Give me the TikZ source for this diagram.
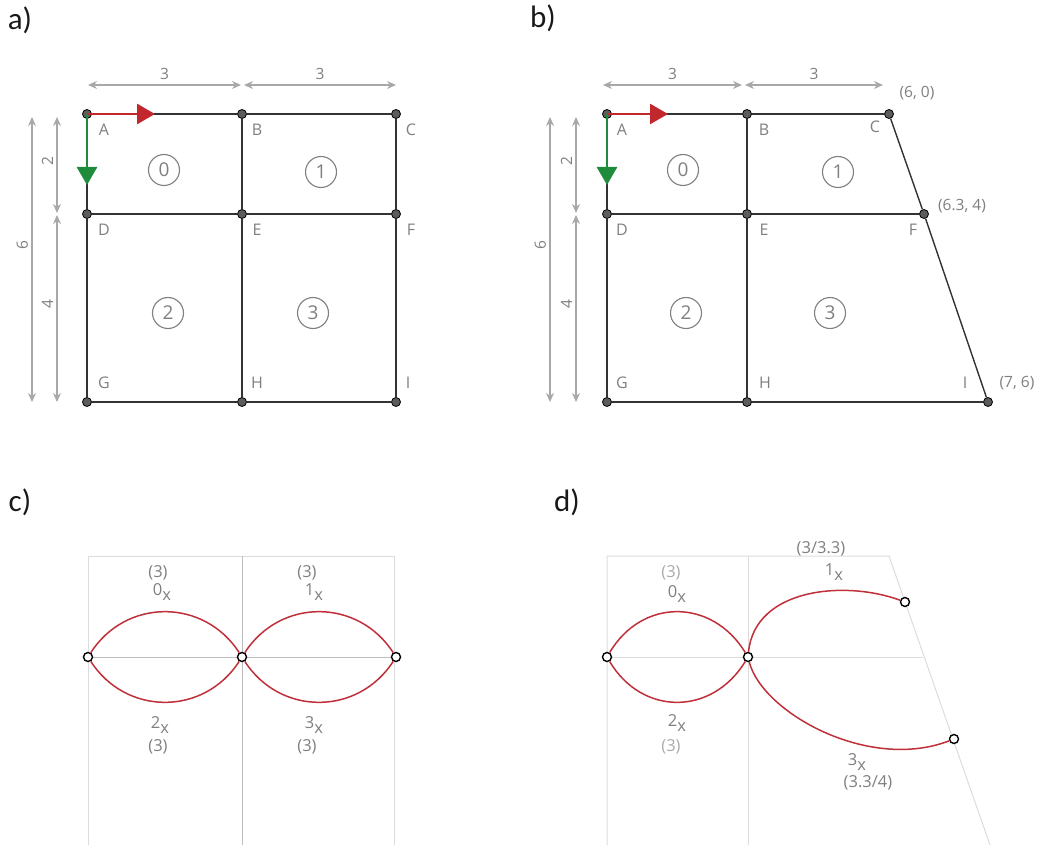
\documentclass[tikz,border=0pt]{standalone}
\usepackage{fontspec}
\setmainfont{Open Sans}
\newfontfamily\panelfont{Carlito}
\usetikzlibrary{arrows.meta,positioning}

\definecolor{member}{HTML}{333333}
\definecolor{dimgray}{HTML}{A8A8A8}
\definecolor{txtgray}{HTML}{7F7F7F}
\definecolor{paletxt}{HTML}{AAAAAA}
\definecolor{axisgray}{HTML}{BDBDBD}
\definecolor{gridgray}{HTML}{DCDCDC}
\definecolor{axisred}{HTML}{C1272D}
\definecolor{axisgreen}{HTML}{1E8C3A}
\definecolor{modered}{HTML}{C0303A}

\newcommand\modex[1]{#1\raisebox{-5pt}{x}}

\begin{document}
\begin{tikzpicture}[x=1pt,y=-1pt,
    joint/.style={circle,fill=member!80,draw=black,line width=0.8pt,inner sep=0pt,minimum size=9pt},
    freejoint/.style={circle,fill=white,draw=black,line width=1.4pt,inner sep=0pt,minimum size=9pt},
    member/.style={draw=member,line width=1.8pt},
    spine/.style={draw=member,line width=2.8pt},
    dimline/.style={{Stealth[length=9pt,width=8pt]}-{Stealth[length=9pt,width=8pt]},dimgray,line width=1.3pt},
    dimtxt/.style={text=txtgray,font=\fontsize{15.5}{17}\selectfont},
    nlbl/.style={text=txtgray,font=\fontsize{16}{18}\selectfont},
    region/.style={circle,draw=txtgray,line width=1.1pt,text=txtgray,minimum size=31pt,inner sep=0pt,
                   font=\fontsize{19}{21}\selectfont},
    panel/.style={text=black!90,font=\panelfont\fontsize{31}{33}\selectfont},
    axis/.style={-{Triangle[length=18pt,width=20pt]},line width=2.8pt},
    grid/.style={draw=gridgray,line width=1pt},
    mode/.style={draw=modered,line width=1.5pt},
    mlbl/.style={text=txtgray,font=\fontsize{16.5}{18}\selectfont}]
\useasboundingbox (0,0) rectangle (1045,845);

% panel labels
\node[panel] (pa) at (20,20) {a)};
\node[panel] (pb) at (543,18) {b)};
\node[panel] (pc) at (20,502) {c)};
\node[panel] (pd) at (567,502) {d)};

% ---- a) rectangular mesh
\node[joint] (aA) at (87,114) {};
\node[joint] (aB) at (242,114) {};
\node[joint] (aC) at (396,114) {};
\node[joint] (aD) at (87,214) {};
\node[joint] (aE) at (242,214) {};
\node[joint] (aF) at (396,214) {};
\node[joint] (aG) at (87,402) {};
\node[joint] (aH) at (242,402) {};
\node[joint] (aI) at (396,402) {};
\draw[member] (aA) -- (aB) -- (aC) -- (aF) -- (aI) -- (aH) -- (aG) -- (aD) -- (aA);
\draw[member] (aD) -- (aE) -- (aF);
\draw[spine] (aB) -- (aE) -- (aH);
\draw[axis,axisred] (aA.center) -- ++(68,0) coordinate (aX);
\draw[axis,axisgreen] (aA.center) -- ++(0,71) coordinate (aY);

\node[region] (a0) at (164,170) {0};
\node[region] (a1) at (321,172) {1};
\node[region] (a2) at (168,313) {2};
\node[region] (a3) at (313,313) {3};

\node[nlbl] at ([shift={(17,16)}]aA) {A};
\node[nlbl] at ([shift={(15,16)}]aB) {B};
\node[nlbl] at ([shift={(15,16)}]aC) {C};
\node[nlbl] at ([shift={(17,16)}]aD) {D};
\node[nlbl] at ([shift={(15,16)}]aE) {E};
\node[nlbl] at ([shift={(15,16)}]aF) {F};
\node[nlbl] at ([shift={(17,-19)}]aG) {G};
\node[nlbl] at ([shift={(15,-19)}]aH) {H};
\node[nlbl] at ([shift={(12,-19)}]aI) {I};

% dimensions
\coordinate (ad1) at (88,85);
\coordinate (ad2) at (241,85);
\coordinate (ad3) at (244,85);
\coordinate (ad4) at (396,85);
\draw[dimline] (ad1) -- node[dimtxt,above=1pt] {3} (ad2);
\draw[dimline] (ad3) -- node[dimtxt,above=1pt] {3} (ad4);
\coordinate (av1) at (32,117);
\coordinate (av2) at (32,402);
\coordinate (av3) at (57,117);
\coordinate (av4) at (57,213);
\coordinate (av5) at (57,215);
\coordinate (av6) at (57,402);
\draw[dimline] (av1) -- node[dimtxt,rotate=90,above=14pt,anchor=south] {6} (av2);
\draw[dimline] (av3) -- node[dimtxt,rotate=90,above=4pt,anchor=south] {2} (av4);
\draw[dimline] (av5) -- node[dimtxt,rotate=90,above=4pt,anchor=south] {4} (av6);

% ---- b) distorted mesh
\node[joint] (bA) at (607,114) {};
\node[joint] (bB) at (747,114) {};
\node[joint] (bC) at (889,114) {};
\node[joint] (bD) at (607,214) {};
\node[joint] (bE) at (747,214) {};
\node[joint] (bF) at (924,214) {};
\node[joint] (bG) at (607,402) {};
\node[joint] (bH) at (747,402) {};
\node[joint] (bI) at (988,402) {};
\draw[member] (bA) -- (bB) -- (bC);
\draw[member] (bI) -- (bH) -- (bG) -- (bD) -- (bA);
\draw[member,line width=1.4pt] (bC) -- (bF) -- (bI);
\draw[member] (bD) -- (bE) -- (bF);
\draw[spine] (bB) -- (bE) -- (bH);
\draw[axis,axisred] (bA.center) -- ++(61,0) coordinate (bX);
\draw[axis,axisgreen] (bA.center) -- ++(0,71) coordinate (bY);

\node[region] (b0) at (683,170) {0};
\node[region] (b1) at (838,172) {1};
\node[region] (b2) at (686,313) {2};
\node[region] (b3) at (830,313) {3};

\node[nlbl] at ([shift={(15,16)}]bA) {A};
\node[nlbl] at ([shift={(17,16)}]bB) {B};
\node[nlbl] at ([shift={(-14,13)}]bC) {C};
\node[nlbl] at ([shift={(15,16)}]bD) {D};
\node[nlbl] at ([shift={(17,16)}]bE) {E};
\node[nlbl] at ([shift={(-11,16)}]bF) {F};
\node[nlbl] at ([shift={(15,-19)}]bG) {G};
\node[nlbl] at ([shift={(18,-19)}]bH) {H};
\node[nlbl] at ([shift={(-23,-19)}]bI) {I};
\node[dimtxt] at ([shift={(28,-21)}]bC) {(6, 0)};
\node[dimtxt] at ([shift={(38,-8)}]bF) {(6.3, 4)};
\node[dimtxt] at ([shift={(29,-19)}]bI) {(7, 6)};

\coordinate (bd1) at (603,85);
\coordinate (bd2) at (742,85);
\coordinate (bd3) at (745,85);
\coordinate (bd4) at (883,85);
\draw[dimline] (bd1) -- node[dimtxt,above=1pt] {3} (bd2);
\draw[dimline] (bd3) -- node[dimtxt,above=1pt] {3} (bd4);
\coordinate (bv1) at (550,117);
\coordinate (bv2) at (550,402);
\coordinate (bv3) at (576,117);
\coordinate (bv4) at (576,213);
\coordinate (bv5) at (576,215);
\coordinate (bv6) at (576,402);
\draw[dimline] (bv1) -- node[dimtxt,rotate=90,above=14pt,anchor=south] {6} (bv2);
\draw[dimline] (bv3) -- node[dimtxt,rotate=90,above=4pt,anchor=south] {2} (bv4);
\draw[dimline] (bv5) -- node[dimtxt,rotate=90,above=4pt,anchor=south] {4} (bv6);

% ---- c) modes on rectangular mesh
\draw[grid] (88,845) -- (88,556) -- (394,556) -- (394,845);
\draw[draw=axisgray,line width=1pt] (242,556) -- (242,845);
\draw[draw=axisgray,line width=1pt] (88,657) -- (396,657);
\node[freejoint] (cL) at (88,657) {};
\node[freejoint] (cM) at (242,657) {};
\node[freejoint] (cR) at (396,657) {};
\draw[mode] (cL) .. controls (126,598) and (204,598) .. (cM);
\draw[mode] (cL) .. controls (126,716) and (204,716) .. (cM);
\draw[mode] (cM) .. controls (280,598) and (358,598) .. (cR);
\draw[mode] (cM) .. controls (280,716) and (358,716) .. (cR);
\node[mlbl] (c0w) at (158,573) {(3)};
\node[mlbl] (c0) at (162,592) {\modex{0}};
\node[mlbl] (c1w) at (307,573) {(3)};
\node[mlbl] (c1) at (314,592) {\modex{1}};
\node[mlbl] (c2) at (160,725) {\modex{2}};
\node[mlbl] (c2w) at (158,747) {(3)};
\node[mlbl] (c3) at (314,725) {\modex{3}};
\node[mlbl] (c3w) at (307,747) {(3)};

% ---- d) modes on distorted mesh
\draw[grid] (607,845) -- (607,556) -- (889,556) -- (990,845);
\draw[grid] (748,556) -- (748,845);
\draw[grid] (607,657) -- (923,657);
\node[freejoint] (dL) at (607,657) {};
\node[freejoint] (dM) at (748,657) {};
\node[freejoint] (dT) at (905,602) {};
\node[freejoint] (dB) at (954,739) {};
\draw[mode] (dL) .. controls (642,598) and (712,598) .. (dM);
\draw[mode] (dL) .. controls (642,716) and (712,716) .. (dM);
\draw[mode] (dM) .. controls (755,588) and (845,580) .. (dT);
\draw[mode] (dM) .. controls (762,712) and (868,772) .. (dB);
\node[mlbl,text=paletxt] (d0w) at (671,573) {(3)};
\node[mlbl] (d0) at (677,594) {\modex{0}};
\node[mlbl] (d1w) at (821,549) {(3/3.3)};
\node[mlbl] (d1) at (834,572) {\modex{1}};
\node[mlbl] (d2) at (677,723) {\modex{2}};
\node[mlbl,text=paletxt] (d2w) at (671,747) {(3)};
\node[mlbl] (d3) at (857,762) {\modex{3}};
\node[mlbl] (d3w) at (868,783) {(3.3/4)};
\end{tikzpicture}
\end{document}
